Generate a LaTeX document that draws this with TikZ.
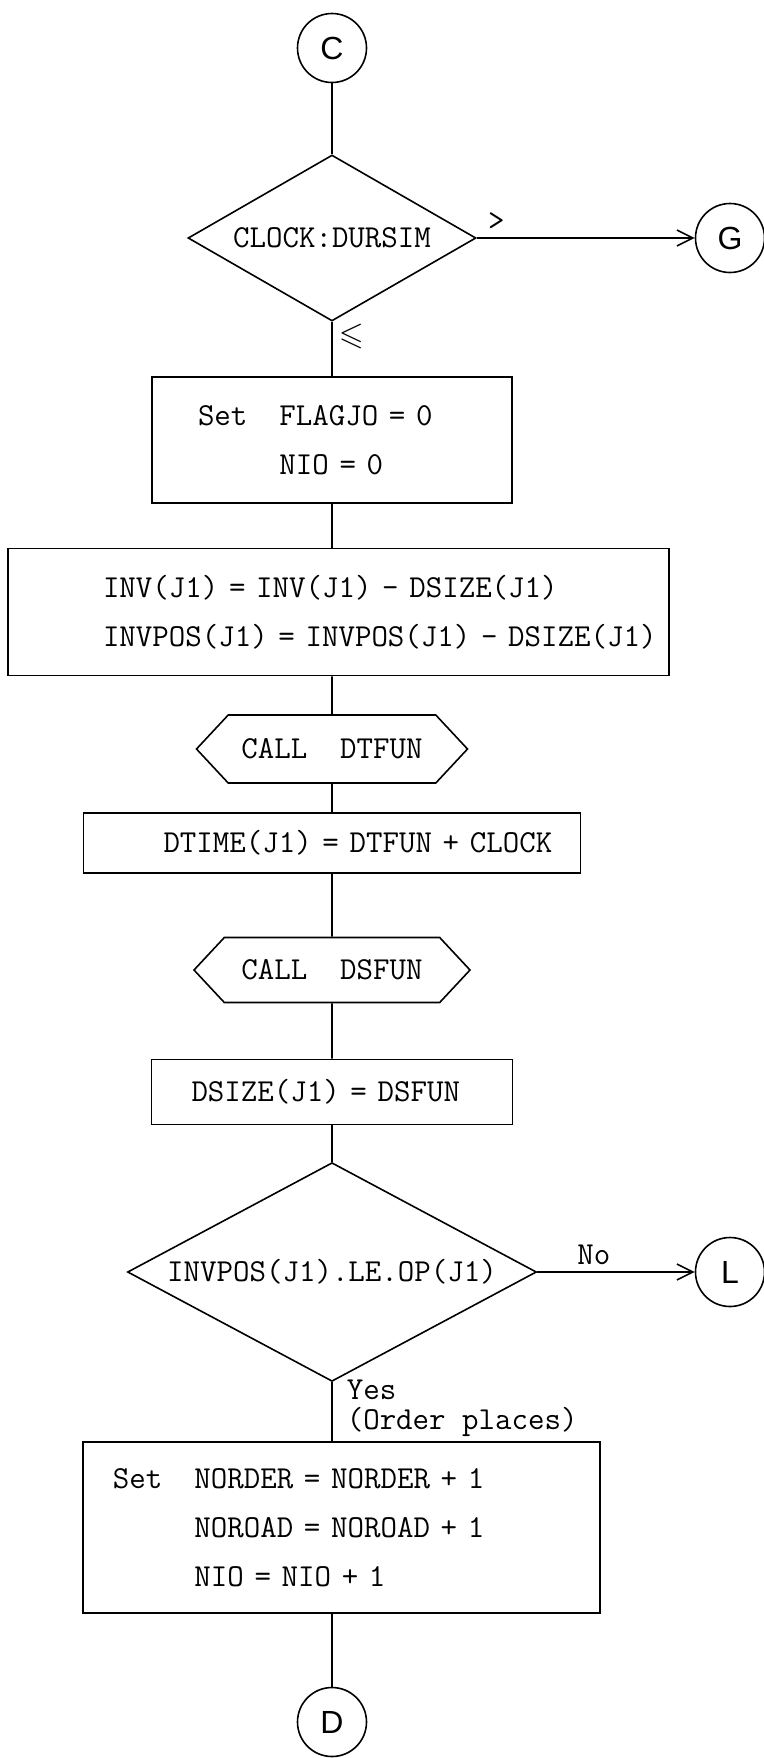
\documentclass[tikz,border=0pt]{standalone}
\usepackage{amssymb}
\usepackage{fontspec}
\newfontfamily\connfont{Liberation Sans}
\usepackage{tikz}
\usetikzlibrary{arrows.meta,positioning,shapes.geometric,shapes.symbols}
% typewriter text: one space is as wide as one character
\newcommand{\typew}[1]{\fontsize{16}{#1}\selectfont\ttfamily
  \fontdimen2\font=\fontcharwd\font`\M\relax}

\begin{document}
\begin{tikzpicture}[x=0.5pt,y=-0.5pt,line width=0.8pt,
    >={Straight Barb[length=8pt,width=8pt]},
    txt/.style={font=\typew{24.5}},
    box/.style={draw,txt,align=left,inner xsep=0pt,inner ysep=0pt},
    dec/.style={draw,diamond,txt,inner sep=0pt,aspect=1.7},
    call/.style={draw,signal,signal to=east and west,signal pointer angle=94,
                 txt,inner xsep=0pt,inner ysep=0pt},
    conn/.style={draw,circle,minimum size=34.5pt,inner sep=0pt,
                 font=\fontsize{16}{16}\selectfont\connfont}]
  \useasboundingbox (0,0) rectangle (764,1758);

  \node[conn] (conC) at (332,48) {C};
  \node[dec,minimum width=144pt,minimum height=83pt] (clock) at (332,238)
    {CLOCK:DURSIM};
  \node[conn] (conG) at (730,238) {G};

  \node[box,text width=180pt,minimum height=63pt] (setflag) at (332,440)
    {\hspace*{23pt}Set\ \ \ FLAGJO = 0\\
     \hspace*{23pt}\phantom{Set\ \ \ }NIO = 0};
  \node[box,text width=330.5pt,minimum height=63.5pt] (invupd) at (338.5,612)
    {\hspace*{47.5pt}INV(J1) = INV(J1) - DSIZE(J1)\\
     \hspace*{47.5pt}INVPOS(J1) = INVPOS(J1) - DSIZE(J1)};

  \node[call,minimum width=135.5pt,minimum height=34pt] (calldt) at (332,749)
    {CALL\ \ DTFUN};
  \node[box,text width=248.5pt,minimum height=30pt] (dtime) at (332,843)
    {\hspace*{40pt}DTIME(J1) = DTFUN + CLOCK};
  \node[call,minimum width=138pt,minimum height=32.5pt] (callds) at (332,970)
    {CALL\ \ DSFUN};
  \node[box,text width=180.5pt,minimum height=32.5pt] (dsize) at (332,1092)
    {\hspace*{20pt}DSIZE(J1) = DSFUN};

  \node[dec,minimum width=204.5pt,minimum height=91pt] (posdec) at (332,1272)
    {INVPOS(J1).LE.OP(J1)};
  \node[conn] (conL) at (730,1272) {L};

  \node[box,text width=258.5pt,minimum height=85.5pt] (setorder) at (341.5,1527.5)
    {\hspace*{15pt}Set\ \ \ NORDER = NORDER + 1\\
     \hspace*{15pt}\phantom{Set\ \ \ }NOROAD = NOROAD + 1\\
     \hspace*{15pt}\phantom{Set\ \ \ }NIO = NIO + 1};
  \node[conn] (conD) at (332,1722) {D};

  \draw (conC) -- (clock);
  \draw[->] (clock) -- node[txt,pos=0.09,above] {>} (conG);
  \draw (clock) -- node[txt,pos=0.27,right,inner sep=3pt] {$\leqslant$} (setflag);
  \draw (setflag) -- (setflag |- invupd.north);
  \draw (calldt |- invupd.south) -- (calldt);
  \draw (calldt) -- (dtime);
  \draw (dtime) -- (callds);
  \draw (callds) -- (dsize);
  \draw (dsize) -- (posdec);
  \draw[->] (posdec) -- node[txt,pos=0.36,above] {No} (conL);
  \draw (posdec) -- node[pos=0.45,right,inner xsep=7pt,align=left,font=\typew{15}]
      {Yes\\(Order places)}
    (posdec |- setorder.north);
  \draw (conD |- setorder.south) -- (conD);
\end{tikzpicture}
\end{document}
